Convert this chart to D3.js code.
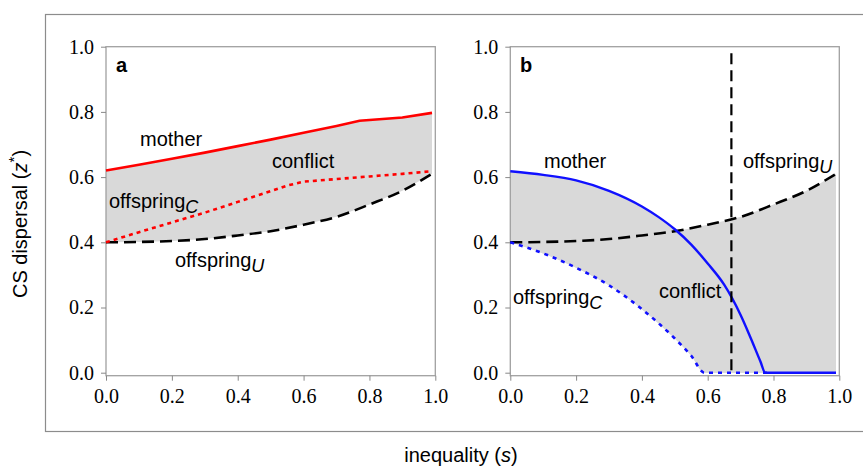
<!DOCTYPE html>
<html>
<head>
<meta charset="utf-8">
<script src="https://cdn.jsdelivr.net/npm/d3@7"></script>
<style>
  body { margin: 0; background: #fff; }
  svg { display: block; }
  .lab { font-family: "Liberation Sans", Arial, sans-serif; font-size: 20px; fill: #000; }
</style>
</head>
<body>
<div id="chart"></div>
<script>
// tick values
var xTicks = [0, 0.2, 0.4, 0.6, 0.8, 1.0];
var yTicks = [0, 0.2, 0.4, 0.6, 0.8, 1.0];

// panel a (red)
var sMotherA = [0, 0.1, 0.2, 0.3, 0.4, 0.5, 0.6, 0.7, 0.77, 0.8, 0.9, 0.99];
var motherA = [0.62, 0.638, 0.656, 0.675, 0.695, 0.715, 0.736, 0.757, 0.773, 0.775, 0.783, 0.797];
var sOffCA = [0, 0.1, 0.2, 0.3, 0.4, 0.5, 0.55, 0.6, 0.7, 0.8, 0.9, 0.99];
var offCA = [0.400, 0.431, 0.461, 0.491, 0.524, 0.557, 0.574, 0.586, 0.594, 0.602, 0.610, 0.618];

// offspring U, same in both panels
var sOffU = [0, 0.1, 0.2, 0.3, 0.4, 0.5, 0.6, 0.7, 0.8, 0.9, 0.99];
var offU = [0.400, 0.401, 0.404, 0.410, 0.421, 0.434, 0.454, 0.478, 0.516, 0.558, 0.610];

// panel b (blue)
var sMotherB = [0, 0.1, 0.2, 0.3, 0.4, 0.45, 0.5, 0.55, 0.6, 0.65, 0.7, 0.73, 0.76, 0.775, 0.8, 0.9, 0.99];
var motherB = [0.618, 0.607, 0.59, 0.558, 0.51, 0.478, 0.44, 0.393, 0.335, 0.27, 0.177, 0.108, 0.035, 0, 0, 0, 0];
var sOffCB = [0, 0.1, 0.2, 0.3, 0.4, 0.5, 0.55, 0.59, 0.7, 0.78];
var offCB = [0.400, 0.366, 0.322, 0.268, 0.195, 0.105, 0.052, 0, 0, 0];

var sThreshold = 0.672;

function pts(s, v) { return s.map((d, i) => [d, v[i]]); }

var width = 863, height = 468;
var svg = d3.select("#chart").append("svg")
    .attr("width", width)
    .attr("height", height);

// outer frame
svg.append("rect")
    .attr("x", 45.5).attr("y", 14.5)
    .attr("width", 900).attr("height", 417)
    .attr("fill", "none")
    .attr("stroke", "#8c8c8c")
    .attr("stroke-width", 1.2);

var y = d3.scaleLinear().domain([0, 1]).range([372.7, 46.7]);
var frameBottom = 375.7;

function panel(x0, x1) {
    var x = d3.scaleLinear().domain([0, 1]).range([x0, x1]);
    var g = svg.append("g");
    var line = d3.line().x(d => x(d[0])).y(d => y(d[1]));
    var curve = d3.line().x(d => x(d[0])).y(d => y(d[1])).curve(d3.curveMonotoneX);
    return { x: x, g: g, line: line, curve: curve };
}

// fill between two boundaries, each drawn with the given line generator
function band(gen, top, bottom) {
    return gen(top) + gen(bottom.slice().reverse()).replace(/^M/, "L") + "Z";
}

function drawAxes(p) {
    var g = p.g, x = p.x;
    g.append("rect")
        .attr("x", x(0)).attr("y", y(1))
        .attr("width", x(1) - x(0)).attr("height", frameBottom - y(1))
        .attr("fill", "none")
        .attr("stroke", "#a0a0a0")
        .attr("stroke-width", 1.3);

    var ya = g.append("g")
        .attr("transform", `translate(${x(0)},0)`)
        .call(d3.axisLeft(y).tickValues(yTicks).tickFormat(d3.format(".1f")).tickSize(5).tickPadding(7));
    var xa = g.append("g")
        .attr("transform", `translate(0,${frameBottom})`)
        .call(d3.axisBottom(x).tickValues(xTicks).tickFormat(d3.format(".1f")).tickSize(5).tickPadding(8));
    [ya, xa].forEach(a => {
        a.attr("font-family", "Liberation Serif").attr("font-size", 20);
        a.select(".domain").remove();
        a.selectAll("line").attr("stroke", "#888");
        a.selectAll("text")
            .style("font-family", "'Liberation Serif', 'Times New Roman', serif")
            .style("font-size", "20px")
            .attr("fill", "#000");
    });
}

function label(g, x, yy, main, sub, bold) {
    var t = g.append("text").attr("class", "lab")
        .attr("x", x).attr("y", yy)
        .style("font-weight", bold ? "bold" : null)
        .text(main);
    if (sub) {
        t.append("tspan")
            .attr("dy", 5)
            .style("font-style", "italic")
            .style("font-size", "18px")
            .text(sub);
    }
}

// ---- panel a ----
var pa = panel(106, 435.3);
pa.g.append("path")
    .attr("d", band(pa.line, pts(sMotherA, motherA), pts(sOffU, offU)))
    .attr("fill", "#d9d9d9");
drawAxes(pa);
pa.g.append("path")
    .attr("d", pa.curve(pts(sOffU, offU)))
    .attr("fill", "none").attr("stroke", "#000")
    .attr("stroke-width", 2.6).attr("stroke-dasharray", "12,6");
pa.g.append("path")
    .attr("d", pa.line(pts(sOffCA, offCA)))
    .attr("fill", "none").attr("stroke", "#ff0000")
    .attr("stroke-width", 2.6).attr("stroke-dasharray", "4,4");
pa.g.append("path")
    .attr("d", pa.line(pts(sMotherA, motherA)))
    .attr("fill", "none").attr("stroke", "#ff0000")
    .attr("stroke-width", 2.6);

label(pa.g, 116, 72, "a", null, true);
label(pa.g, 140, 146, "mother");
label(pa.g, 272, 168, "conflict");
label(pa.g, 109, 208, "offspring", "C");
label(pa.g, 175, 267, "offspring", "U");

// ---- panel b ----
var pb = panel(510.3, 839.3);
var motherPts = pts(sMotherB, motherB);
var bottomB = pts(sOffCB, offCB).concat(motherPts.filter(d => d[0] > sOffCB[sOffCB.length - 1]));
pb.g.append("path")
    .attr("d", band(pb.curve, pts(sOffU, offU), bottomB))
    .attr("fill", "#d9d9d9");
pb.g.append("path")
    .attr("d", band(pb.curve, motherPts, bottomB))
    .attr("fill", "#d9d9d9");
drawAxes(pb);
pb.g.append("path")
    .attr("d", pb.curve(pts(sOffU, offU)))
    .attr("fill", "none").attr("stroke", "#000")
    .attr("stroke-width", 2.6).attr("stroke-dasharray", "12,6");
pb.g.append("path")
    .attr("d", pb.curve(pts(sOffCB, offCB)))
    .attr("fill", "none").attr("stroke", "#1010ff")
    .attr("stroke-width", 2.6).attr("stroke-dasharray", "4,5");
pb.g.append("path")
    .attr("d", pb.curve(motherPts))
    .attr("fill", "none").attr("stroke", "#1010ff")
    .attr("stroke-width", 2.4);
pb.g.append("line")
    .attr("x1", pb.x(sThreshold)).attr("x2", pb.x(sThreshold))
    .attr("y1", y(0.98)).attr("y2", y(0))
    .attr("stroke", "#000").attr("stroke-width", 2.2)
    .attr("stroke-dasharray", "11,6");

label(pb.g, 520, 72, "b", null, true);
label(pb.g, 544, 168, "mother");
label(pb.g, 743, 168, "offspring", "U");
label(pb.g, 659, 298, "conflict");
label(pb.g, 513, 304, "offspring", "C");

// axis titles
var yt = svg.append("text").attr("class", "lab")
    .attr("transform", "translate(27,224) rotate(-90)")
    .attr("text-anchor", "middle");
yt.append("tspan").text("CS dispersal (");
yt.append("tspan").style("font-style", "italic").text("z");
yt.append("tspan").attr("dy", -8).style("font-size", "15px").text("*");
yt.append("tspan").attr("dy", 8).text(")");

var xt = svg.append("text").attr("class", "lab")
    .attr("x", 461).attr("y", 462)
    .attr("text-anchor", "middle");
xt.append("tspan").text("inequality (");
xt.append("tspan").style("font-style", "italic").text("s");
xt.append("tspan").text(")");
</script>
</body>
</html>
